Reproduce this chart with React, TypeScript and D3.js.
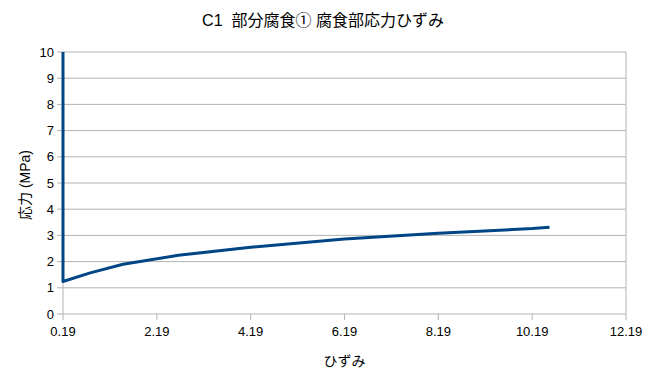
import React from "react";
import * as d3 from "d3";

const strain = [0.19, 0.19, 0.77, 1.47, 2.65, 4.19, 6.19, 8.19, 10.19, 10.56];
const stress = [10, 1.24, 1.57, 1.9, 2.24, 2.55, 2.86, 3.08, 3.26, 3.31];
const xTicks = [0.19, 2.19, 4.19, 6.19, 8.19, 10.19, 12.19];
const yTicks = [0, 1, 2, 3, 4, 5, 6, 7, 8, 9, 10];
const title = "C1  部分腐食① 腐食部応力ひずみ";
const xLabel = "ひずみ";
const yLabel = "応力 (MPa)";

const W = 646, H = 378;
const L = 63, R = 626, T = 52, B = 314;

export default function App() {
  const x = d3.scaleLinear().domain([0.19, 12.19]).range([L, R]);
  const y = d3.scaleLinear().domain([0, 10]).range([B, T]);
  const pts = strain.map((s, i) => [s, stress[i]] as [number, number]);
  const line = d3.line<[number, number]>().x(d => x(d[0])).y(d => y(d[1]));
  const font = "'Liberation Sans', 'Noto Sans CJK JP', sans-serif";
  return (
    <svg width={W} height={H} style={{ position: "absolute", left: 0, top: 0, background: "#fff" }} fontFamily={font}>
      <rect x={0} y={0} width={W} height={H} fill="#fff" />
      {yTicks.map(t => (
        <g key={"y" + t}>
          <line x1={L - 6} x2={R} y1={y(t)} y2={y(t)} stroke="#b3b3b3" strokeWidth={1} />
          <text x={L - 9} y={y(t)} dy="0.35em" textAnchor="end" fontSize={13} fill="#000">{t}</text>
        </g>
      ))}
      {xTicks.map(t => (
        <g key={"x" + t}>
          <line x1={x(t)} x2={x(t)} y1={B} y2={B + 6} stroke="#b3b3b3" strokeWidth={1} />
          <text x={x(t)} y={B + 22} textAnchor="middle" fontSize={13} fill="#000">{t.toFixed(2)}</text>
        </g>
      ))}
      <line x1={L} x2={L} y1={T} y2={B} stroke="#b3b3b3" strokeWidth={1} />
      <line x1={R} x2={R} y1={T} y2={B} stroke="#b3b3b3" strokeWidth={1} />
      <path d={line(pts) || ""} fill="none" stroke="#004586" strokeWidth={3} strokeLinejoin="round" />
      <text x={323} y={26} textAnchor="middle" fontSize={16} fill="#000" style={{ whiteSpace: "pre" }}>{title}</text>
      <text x={(L + R) / 2} y={366} textAnchor="middle" fontSize={14} fill="#000">{xLabel}</text>
      <text transform={`translate(30, 185) rotate(-90)`} textAnchor="middle" fontSize={14} fill="#000" style={{ whiteSpace: "pre" }}>{yLabel}</text>
    </svg>
  );
}
